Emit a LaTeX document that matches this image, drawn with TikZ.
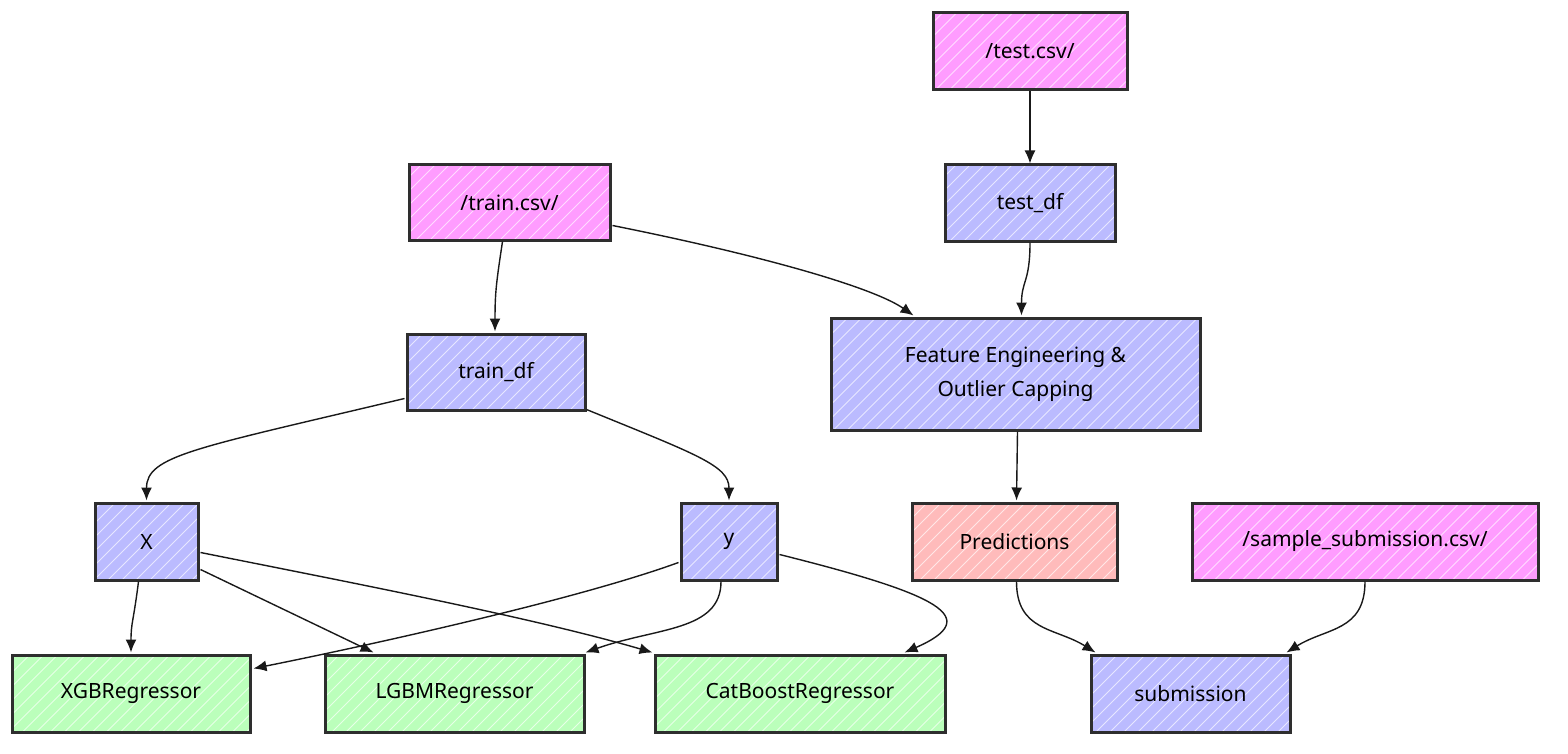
\documentclass[tikz,border=0pt]{standalone}
\usepackage{fontspec}
\setmainfont{Noto Sans}
\usetikzlibrary{arrows.meta,calc}
\definecolor{pinkf}{RGB}{255,156,255}
\definecolor{bluef}{RGB}{187,187,255}
\definecolor{greenf}{RGB}{187,255,187}
\definecolor{salmonf}{RGB}{255,187,187}
\definecolor{edge}{RGB}{46,46,46}
\tikzset{
  hatch/.style={path picture={
    \foreach \i in {-266,-252,...,266}{
      \draw[white,opacity=0.65,line width=0.9pt]
        ([shift={(\i-120,120)}]path picture bounding box.center) --
        ([shift={(\i+120,-120)}]path picture bounding box.center);}
  }},
  box/.style={draw=edge, line width=3pt, rectangle, hatch,
    font=\fontsize{21}{34}\selectfont, text=black, align=center,
    inner sep=0pt},
  conn/.style={draw=black!90, line width=1.4pt,
    -{Latex[length=13pt,width=11pt]}},
}
\begin{document}
\begin{tikzpicture}[x=1pt,y=-1pt]
\useasboundingbox (0,0) rectangle (1568,754);
% nodes
\node[box, fill=pinkf, minimum width=194, minimum height=77] (testcsv) at (1030,51.5) {/test.csv/};
\node[box, fill=bluef, minimum width=170, minimum height=76] (testdf) at (1030,203) {test\_df};
\node[box, fill=pinkf, minimum width=201, minimum height=75] (traincsv) at (509.5,202.5) {/train.csv/};
\node[box, fill=bluef, minimum width=178, minimum height=76] (traindf) at (496,372) {train\_df};
\node[box, fill=bluef, minimum width=369, minimum height=112] (fe) at (1015.5,374) {Feature Engineering \&\\Outlier Capping};
\node[box, fill=bluef, minimum width=103, minimum height=77] (X) at (146.5,541.5) {X};
\node[box, fill=bluef, minimum width=96, minimum height=77] (Y) at (729,541.5) {y};
\node[box, fill=salmonf, minimum width=205, minimum height=77] (pred) at (1014.5,541.5) {Predictions};
\node[box, fill=pinkf, minimum width=346, minimum height=77] (sample) at (1365,541.5) {/sample\_submission.csv/};
\node[box, fill=greenf, minimum width=238, minimum height=77] (xgb) at (131,693.5) {XGBRegressor};
\node[box, fill=greenf, minimum width=259, minimum height=77] (lgbm) at (454.5,693.5) {LGBMRegressor};
\node[box, fill=greenf, minimum width=290, minimum height=77] (cat) at (800,693.5) {CatBoostRegressor};
\node[box, fill=bluef, minimum width=199, minimum height=77] (sub) at (1190.5,693.5) {submission};
% connectors
\draw[conn] (testcsv.south) -- (testdf.north);
\draw[conn] (testdf.south) .. controls +(0,40) and +(0,-35) .. ($(fe.north)+(6,-1)$);
\draw[conn] ($(traincsv.south east)+(1,-16)$) .. controls +(150,30) and +(-40,-28) .. ($(fe.north west)+(84,-1)$);
\draw[conn] ($(traincsv.south)+(-7,0)$) .. controls +(-6,40) and +(0,-40) .. ($(traindf.north)+(-1,-1)$);
\draw[conn] ($(traindf.south west)+(-1,-13)$) .. controls +(-210,50) and +(0,-45) .. ($(X.north)+(0,-1)$);
\draw[conn] ($(traindf.south east)+(0,-2)$) .. controls +(110,45) and +(0,-35) .. ($(Y.north)+(0,-1)$);
\draw[conn] ($(fe.south)+(2,0)$) -- ($(pred.north)+(2,-1)$);
\draw[conn] ($(X.south)+(-8,0)$) .. controls +(-5,40) and +(0,-30) .. ($(xgb.north)+(0,-1)$);
\draw[conn] ($(X.south east)+(1,-12)$) -- ($(lgbm.north west)+(50,-1)$);
\draw[conn] ($(X.east)+(1,11)$) .. controls +(150,30) and +(-120,-35) .. ($(cat.north west)+(-1,-1)$);
\draw[conn] ($(Y.west)+(-1,21)$) .. controls +(-110,40) and +(90,-18) .. ($(xgb.north east)+(2,15)$);
\draw[conn] ($(Y.south)+(-8,0)$) .. controls +(0,50) and +(70,-25) .. ($(lgbm.north east)+(0,-1)$);
\draw[conn] ($(Y.east)+(1,13)$) .. controls +(160,40) and +(80,-35) .. ($(cat.north east)+(-42,-1)$);
\draw[conn] ($(pred.south)+(2,0)$) .. controls +(0,50) and +(-40,-25) .. ($(sub.north west)+(6,-1)$);
\draw[conn] (sample.south) .. controls +(0,50) and +(40,-25) .. ($(sub.north east)+(-5,-1)$);
\end{tikzpicture}
\end{document}
